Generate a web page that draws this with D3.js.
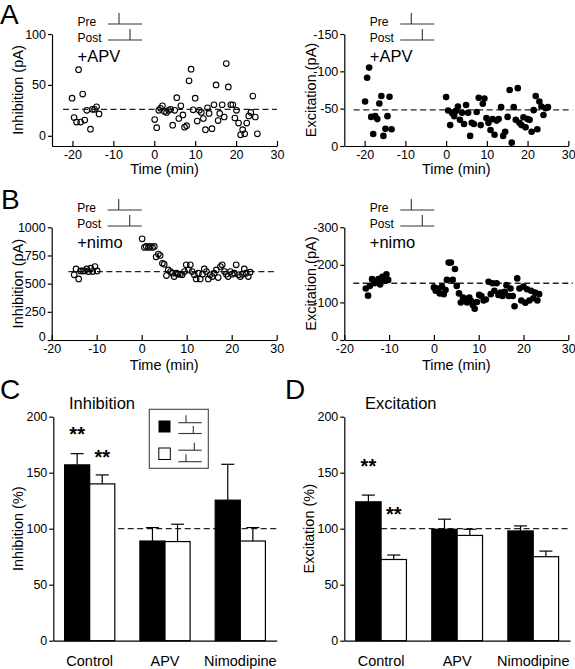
<!DOCTYPE html>
<html><head><meta charset="utf-8">
<script src="https://cdn.jsdelivr.net/npm/d3@7/dist/d3.min.js"></script>
<style>
body{margin:0;background:#fff}
svg text{font-family:"Liberation Sans",Arial,Helvetica,sans-serif;fill:#000}
</style></head>
<body><svg id="fig" width="575" height="669"></svg>
<script>
// ---------------- data ----------------
const timeTicks = [-20, -10, 0, 10, 20, 30];

// A left: inhibition (pA) with APV, [time(min), value]
const inhApv = [[-20.1,37],[-19.6,18],[-19,13.5],[-18.5,65],[-18,13.5],[-17.5,41],[-17,15.5],[-16.5,25],[-15.6,6.5],[-15.1,26],[-14.6,26],[-14.1,28.5],[-13.5,21.5],
[0.1,16],[0.6,8],[1.1,25],[1.5,27],[2,29.5],[2.5,24],[3,23],[3.5,25],[4,26],[4.5,10.5],[5,25],[5.5,37.5],[6,17],[6.5,29.5],[7,20.5],[7.4,8.5],[7.9,10],[8.5,54],[9,65.5],[9.5,25.5],[10,37],[10.5,14.5],[11,25],[11.5,23],[12,17],[12.5,6],[13,27.5],[13.4,22],[14.1,7],[14.6,30.5],[15.1,50],[15.6,15],[16,22],[16.6,30.5],[17.1,18.5],[17.6,71],[18.1,48],[18.7,30.5],[19.2,30.5],[19.7,17.5],[20.1,25],[20.6,12.5],[21.1,1],[21.6,6],[22.1,2],[22.6,12.5],[23.1,19.5],[23.6,23],[24.1,39],[24.7,18.5],[25.2,2]];
const inhApvBase = 26;

// A right: excitation (pA) with APV
const excApv = [[-19.9,-59.5],[-19.4,-91.5],[-18.9,-105],[-18.4,-39],[-17.9,-16],[-17.4,-40],[-16.9,-36],[-16.4,-57],[-15.9,-67],[-15.4,-13.5],[-14.9,-23],[-14.4,-40],[-13.9,-66],[-13.4,-22.5],
[0,-65.5],[0.5,-47.5],[1,-28],[1.5,-44],[2,-40],[2.4,-47],[2.9,-53],[3.4,-35],[3.9,-44.5],[4.4,-29.5],[4.9,-55],[5.4,-44.5],[5.9,-13.5],[6.3,-31],[6.8,-29.5],[7.5,-45.5],[8,-64.5],[8.5,-28],[9,-56.5],[9.4,-63.5],[9.9,-37.5],[10.4,-31],[10.9,-21.5],[11.4,-36],[11.9,-15],[12.4,-34],[12.9,-36],[13.5,-52],[14,-13.5],[14.5,-19],[15.1,-39],[15.6,-75],[16.1,-4.5],[16.6,-52],[17.1,-35],[17.6,-77.5],[18,-31],[18.5,-28],[19,-38.5],[19.5,-25],[20,-36],[20.5,-35],[21,-19],[21.5,-48],[22,-67],[22.4,-22.5],[22.9,-59.5],[23.4,-53],[23.9,-41.5],[24.4,-50.5],[25,-52]];
const excApvBase = -48.5;

// B left: inhibition (pA) with nimodipine
const inhNimo = [[-15,578],[-14.6,631],[-14,542],[-13.6,613],[-13.1,613],[-12.7,613],[-12.2,631],[-11.8,607],[-11.3,637],[-10.9,607],[-10.4,652],[-9.9,613],
[0.1,898],[0.6,821],[1,830],[1.5,821],[1.9,830],[2.4,821],[2.8,830],[3.2,738],[3.7,762],[4.1,750],[4.6,681],[5,673],[5.5,572],[5.9,622],[6.4,607],[6.8,593],[7.2,563],[7.7,593],[8.1,584],[8.6,584],[9,578],[9.5,607],[9.9,667],[10.4,622],[10.8,667],[11.2,607],[11.7,578],[12.1,542],[12.6,593],[13,542],[13.5,584],[13.9,631],[14.4,607],[14.8,542],[15.2,578],[15.7,563],[16.1,593],[16.6,622],[17,554],[17.5,652],[17.9,667],[18.4,607],[18.8,584],[19.2,563],[19.7,607],[20.1,584],[20.6,593],[21,667],[21.5,578],[21.9,563],[22.4,584],[22.8,631],[23.2,593],[23.7,563],[24.1,602]];
const inhNimoBase = 607;

// B right: excitation (pA) with nimodipine
const excNimo = [[-15.2,-137],[-14.7,-118],[-14.3,-144],[-13.8,-162],[-13.3,-151],[-12.9,-155],[-12.4,-162],[-12,-148],[-11.5,-168],[-11.1,-157],[-10.6,-175],[-10.2,-160],
[0,-140],[0.4,-131],[0.9,-137],[1.3,-124],[1.8,-142],[2.2,-122],[2.6,-133],[2.9,-160],[3.3,-206],[3.8,-206],[4.2,-160],[4.7,-189],[5.1,-144],[5.6,-124],[6,-100],[6.5,-113],[6.9,-109],[7.4,-100],[7.9,-113],[8.3,-104],[8.7,-93],[9.1,-83],[9.6,-101],[10.1,-120],[10.6,-117],[11.1,-105],[11.6,-108],[12.2,-155],[12.7,-122],[13.1,-151],[13.5,-131],[14,-151],[14.4,-120],[14.9,-126],[15.3,-117],[15.8,-128],[16.2,-146],[16.7,-117],[17.1,-137],[17.6,-117],[18,-90],[18.6,-164],[19.1,-137],[19.5,-105],[20,-142],[20.4,-99],[20.8,-135],[21.3,-105],[21.7,-131],[22.2,-111],[22.6,-126],[23.1,-105],[23.5,-122]];
const excNimoBase = -151;

// C / D bar charts (% of baseline)
const categories = ["Control", "APV", "Nimodipine"];
const inhPrePost = [157, 89, 125.5];   // black bars
const inhPrePostErr = [10, 12, 32];
const inhPostPre = [140, 88.5, 89];    // white bars
const inhPostPreErr = [8, 15.5, 12];
const excPrePost = [124, 99.5, 98];
const excPrePostErr = [6, 9, 4.5];
const excPostPre = [72.5, 94, 75];
const excPostPreErr = [4, 5.5, 5];
const inhStars = [189, 168];   // level of "**" (black, white) in Control
const excStars = [160, 117];
const pctTicks = [0, 50, 100, 150, 200];

// ---------------- drawing ----------------
const svg = d3.select("#fig");
const FONT = '"Liberation Sans",Arial,Helvetica,sans-serif';

function styleAxis(g, fs) {
  g.attr("font-family", FONT).attr("font-size", fs);
  g.selectAll("path,line").attr("stroke", "#000").attr("stroke-width", 1.2);
  g.selectAll("text").attr("fill", "#000");
}

function pulse(x0, yLine, tickOff, w, h) {
  svg.append("line").attr("x1", x0).attr("x2", x0 + w).attr("y1", yLine).attr("y2", yLine)
    .attr("stroke", "#333").attr("stroke-width", 1.1);
  svg.append("line").attr("x1", x0 + tickOff).attr("x2", x0 + tickOff).attr("y1", yLine).attr("y2", yLine - h)
    .attr("stroke", "#333").attr("stroke-width", 1.1);
}

function panelLabel(t, x, y) {
  svg.append("text").attr("x", x).attr("y", y).attr("font-size", 28).text(t);
}

function yLabel(t, x, y) {
  svg.append("text").attr("transform", `translate(${x},${y}) rotate(-90)`)
    .attr("text-anchor", "middle").attr("dominant-baseline", "central")
    .attr("font-size", 14.5).text(t);
}

function scatter(c) {
  const x = d3.scaleLinear().domain(c.xDomain).range([c.left, c.right]);
  const y = d3.scaleLinear().domain(c.yDomain).range([c.bottom, c.top]);
  svg.append("line").attr("x1", x(c.baseFrom)).attr("x2", x(c.baseTo))
    .attr("y1", y(c.base)).attr("y2", y(c.base))
    .attr("stroke", "#222").attr("stroke-width", 1.3).attr("stroke-dasharray", "6,3.5");
  svg.append("g").selectAll("circle").data(c.data).join("circle")
    .attr("cx", d => x(d[0])).attr("cy", d => y(d[1]))
    .attr("r", c.filled ? 3.3 : 2.8)
    .attr("fill", c.filled ? "#000" : "none")
    .attr("stroke", c.filled ? "none" : "#000").attr("stroke-width", 1.1);
  const gx = svg.append("g").attr("transform", `translate(0,${c.bottom})`)
    .call(d3.axisBottom(x).tickValues(timeTicks).tickSizeInner(-5).tickSizeOuter(0).tickPadding(4).tickFormat(d => String(d)));
  styleAxis(gx, 12.5);
  const gy = svg.append("g").attr("transform", `translate(${c.left},0)`)
    .call(d3.axisLeft(y).tickValues(c.yTicks).tickSizeInner(4).tickSizeOuter(0).tickPadding(2).tickFormat(d => String(d)));
  styleAxis(gy, 12.5);
  if (c.liftZero) gy.selectAll(".tick").filter(d => d === 0).select("text").attr("dy", "0.05em");
  svg.append("text").attr("x", (c.left + c.right) / 2).attr("y", c.bottom + c.titleDy)
    .attr("text-anchor", "middle").attr("font-size", 14.5).text("Time (min)");
  yLabel(c.ylabel, c.ylabelX, (c.top + c.bottom) / 2);
  // Pre / Post stimulation schematic
  const tx = c.left + 25.5;
  svg.append("text").attr("x", tx).attr("y", c.annY + 2).attr("font-size", 12).text("Pre");
  svg.append("text").attr("x", tx).attr("y", c.annY + 17.5).attr("font-size", 12).text("Post");
  pulse(c.left + 56, c.annY, 11, 34, 11);
  pulse(c.left + 56, c.annY + 16, 22, 34, 11);
  svg.append("text").attr("x", tx).attr("y", c.annY + 38).attr("font-size", 16.5).text(c.drug);
}

// Panel A
panelLabel("A", 0, 23.5);
scatter({data: inhApv, base: inhApvBase, baseFrom: -22.3, baseTo: 30, filled: false,
  xDomain: [-25, 30], yDomain: [-10, 100], yTicks: [0, 50, 100],
  left: 52, right: 277, top: 34, bottom: 146, titleDy: 28,
  ylabel: "Inhibition (pA)", ylabelX: 18, annY: 24, drug: "+APV"});
scatter({data: excApv, base: excApvBase, baseFrom: -22.7, baseTo: 31, filled: true,
  xDomain: [-25, 30], yDomain: [0, -150], yTicks: [0, -50, -100, -150],
  left: 344.3, right: 568.3, top: 34, bottom: 146, titleDy: 28,
  ylabel: "Excitation (pA)", ylabelX: 311, annY: 24, drug: "+APV"});

// Panel B
panelLabel("B", 1, 208.5);
scatter({data: inhNimo, base: inhNimoBase, baseFrom: -16.3, baseTo: 30, filled: false,
  xDomain: [-20, 30], yDomain: [0, 1000], yTicks: [0, 250, 500, 750, 1000],
  left: 51.7, right: 276.7, top: 227.3, bottom: 340, titleDy: 29.5, liftZero: true,
  ylabel: "Inhibition (pA)", ylabelX: 18, annY: 210, drug: "+nimo"});
scatter({data: excNimo, base: excNimoBase, baseFrom: -18, baseTo: 31, filled: true,
  xDomain: [-20, 30], yDomain: [0, -300], yTicks: [0, -100, -200, -300],
  left: 344.3, right: 568.3, top: 227.3, bottom: 340, titleDy: 29.5, liftZero: true,
  ylabel: "Excitation (pA)", ylabelX: 311, annY: 210, drug: "+nimo"});

// Bar panels
function bars(c) {
  const x = d3.scaleBand().domain(categories).range([c.left, c.right]).paddingInner(1/3).paddingOuter(0.15);
  const bw = x.bandwidth() / 2;
  const y = d3.scaleLinear().domain([0, 200]).range([c.bottom, c.top]);
  // reference 100% line (starts mid Control group, behind the bars)
  svg.append("line").attr("x1", x("Control") + bw).attr("x2", c.right)
    .attr("y1", y(100)).attr("y2", y(100))
    .attr("stroke", "#222").attr("stroke-width", 1.3).attr("stroke-dasharray", "6,3.5");
  const series = [
    {vals: c.black, errs: c.blackErr, fill: "#000", off: 0},
    {vals: c.white, errs: c.whiteErr, fill: "#fff", off: bw}
  ];
  series.forEach(s => {
    const g = svg.append("g");
    categories.forEach((cat, i) => {
      const cx = x(cat) + s.off + bw / 2;
      const top = y(s.vals[i] + s.errs[i]);
      g.append("line").attr("x1", cx).attr("x2", cx).attr("y1", y(s.vals[i])).attr("y2", top)
        .attr("stroke", "#000").attr("stroke-width", 1.2);
      g.append("line").attr("x1", cx - 6.5).attr("x2", cx + 6.5).attr("y1", top).attr("y2", top)
        .attr("stroke", "#000").attr("stroke-width", 1.2);
    });
    g.selectAll("rect").data(categories).join("rect")
      .attr("x", (d) => x(d) + s.off).attr("width", bw)
      .attr("y", (d, i) => y(s.vals[i])).attr("height", (d, i) => y(0) - y(s.vals[i]))
      .attr("fill", s.fill).attr("stroke", "#000").attr("stroke-width", 1.2);
  });
  // significance stars
  c.stars.forEach((v, j) => {
    svg.append("text").attr("x", x("Control") + j * bw + bw / 2).attr("y", y(v) + 11.5)
      .attr("text-anchor", "middle").attr("font-size", 20).attr("font-weight", "bold").text("**");
  });
  const gx = svg.append("g").attr("transform", `translate(0,${c.bottom})`)
    .call(d3.axisBottom(x).tickSizeInner(0).tickSizeOuter(0).tickPadding(15));
  styleAxis(gx, 14.5);
  const gy = svg.append("g").attr("transform", `translate(${c.left},0)`)
    .call(d3.axisLeft(y).tickValues(pctTicks).tickSizeInner(4).tickSizeOuter(0).tickPadding(2));
  styleAxis(gy, 12.5);
  yLabel(c.ylabel, c.ylabelX, (c.top + c.bottom) / 2);
  svg.append("text").attr("x", c.titleX).attr("y", 408.5).attr("font-size", 16.5).text(c.title);
}

panelLabel("C", 0, 398.5);
bars({black: inhPrePost, blackErr: inhPrePostErr, white: inhPostPre, whiteErr: inhPostPreErr,
  stars: inhStars, left: 53.3, right: 276.7, top: 416.7, bottom: 640.7,
  ylabel: "Inhibition (%)", ylabelX: 18, title: "Inhibition", titleX: 69});
panelLabel("D", 285, 399);
bars({black: excPrePost, blackErr: excPrePostErr, white: excPostPre, whiteErr: excPostPreErr,
  stars: excStars, left: 344.3, right: 570, top: 416.7, bottom: 640.7,
  ylabel: "Excitation (%)", ylabelX: 309, title: "Excitation", titleX: 365});

// Legend in panel C
svg.append("rect").attr("x", 149.3).attr("y", 409.3).attr("width", 59).attr("height", 59)
  .attr("fill", "#fff").attr("stroke", "#444").attr("stroke-width", 1.1);
svg.append("rect").attr("x", 158.5).attr("y", 420.5).attr("width", 12).attr("height", 12).attr("fill", "#000");
svg.append("rect").attr("x", 158.8).attr("y", 448).attr("width", 11.5).attr("height", 11.5)
  .attr("fill", "#fff").attr("stroke", "#000").attr("stroke-width", 1);
pulse(178.3, 422.7, 7.7, 23.4, 7.5);
pulse(178.3, 433.5, 15, 23.4, 7.5);
pulse(178.3, 450.2, 16, 23.4, 7.5);
pulse(178.3, 461.7, 7.7, 23.4, 7.5);
</script>
</body></html>
